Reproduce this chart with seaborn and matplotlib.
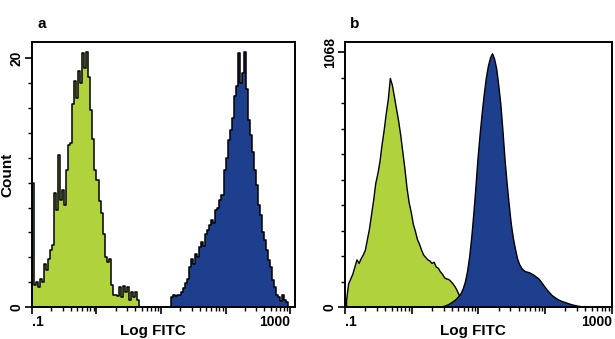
import numpy as np
import pandas as pd
import seaborn as sns
import matplotlib.pyplot as plt
from matplotlib.ticker import FixedLocator

# channel counts, 32 channels per decade from 0.1 to 1000 (log FITC)
green_a = [
    10.0, 1.8, 2.0, 1.6, 2.3, 2.0, 3.5, 3.0, 3.9, 4.6, 5.0, 9.2, 7.8, 12.2, 8.6, 9.4,
    8.2, 11.0, 13.0, 13.2, 16.3, 18.2, 16.8, 19.0, 18.0, 20.4, 19.2, 20.5, 18.5, 15.8, 13.5, 11.0,
    10.2, 8.5, 7.6, 5.9, 4.0, 3.6, 3.9, 1.8, 1.0, 1.0, 0.9, 1.6, 0.8, 1.7, 1.2, 1.6,
    0.6, 1.2, 0.8, 1.2, 0.6, 0, 0, 0, 0, 0, 0, 0, 0, 0, 0, 0,
    0, 0, 0, 0, 0, 0, 0, 0, 0, 0, 0, 0, 0, 0, 0, 0,
    0, 0, 0, 0, 0, 0, 0, 0, 0, 0, 0, 0, 0, 0, 0, 0,
    0, 0, 0, 0, 0, 0, 0, 0, 0, 0, 0, 0, 0, 0, 0, 0,
    0, 0, 0, 0, 0, 0, 0, 0, 0, 0, 0, 0, 0, 0, 0, 0,
]
blue_a = [
    0, 0, 0, 0, 0, 0, 0, 0, 0, 0, 0, 0, 0, 0, 0, 0,
    0, 0, 0, 0, 0, 0, 0, 0, 0, 0, 0, 0, 0, 0, 0, 0,
    0, 0, 0, 0, 0, 0, 0, 0, 0, 0, 0, 0, 0, 0, 0, 0,
    0, 0, 0, 0, 0, 0, 0, 0, 0, 0, 0, 0, 0, 0, 0, 0,
    0, 0, 0, 0, 0, 0.8, 1.0, 0.9, 1.0, 1.0, 1.2, 1.5, 1.9, 2.3, 3.2, 3.9,
    3.5, 4.3, 4.0, 4.8, 5.2, 4.9, 5.9, 6.2, 6.6, 7.0, 6.8, 7.8, 8.0, 8.6, 9.0, 11.0,
    12.0, 13.4, 14.2, 15.2, 17.0, 17.8, 20.4, 18.0, 18.8, 20.5, 17.5, 15.0, 13.8, 12.5, 11.0, 9.8,
    8.2, 7.4, 6.0, 5.4, 4.6, 3.8, 3.2, 2.2, 1.6, 1.0, 0.8, 0.5, 1.0, 0.6, 0.4, 0,
]
green_b = [
    30, 100, 120, 140, 170, 200, 185, 205, 220, 240, 285, 330, 390, 450, 520, 560,
    610, 680, 740, 810, 870, 960, 930, 880, 830, 780, 720, 650, 580, 500, 440, 400,
    350, 320, 285, 265, 240, 220, 210, 200, 195, 185, 190, 170, 165, 150, 140, 125,
    120, 118, 110, 100, 88, 72, 52, 30, 12, 0, 0, 0, 0, 0, 0, 0,
    0, 0, 0, 0, 0, 0, 0, 0, 0, 0, 0, 0, 0, 0, 0, 0,
    0, 0, 0, 0, 0, 0, 0, 0, 0, 0, 0, 0, 0, 0, 0, 0,
    0, 0, 0, 0, 0, 0, 0, 0, 0, 0, 0, 0, 0, 0, 0, 0,
    0, 0, 0, 0, 0, 0, 0, 0, 0, 0, 0, 0, 0, 0, 0, 0,
]
blue_b = [
    0, 0, 0, 0, 0, 0, 0, 0, 0, 0, 0, 0, 0, 0, 0, 0,
    0, 0, 0, 0, 0, 0, 0, 0, 0, 0, 0, 0, 0, 0, 0, 0,
    0, 0, 0, 0, 0, 0, 0, 0, 0, 0, 0, 0, 0, 2, 4, 6,
    9, 13, 18, 24, 30, 38, 48, 60, 80, 108, 150, 210, 290, 390, 500, 620,
    720, 810, 890, 960, 1010, 1045, 1063, 1040, 1000, 930, 850, 740, 620, 520, 430, 350,
    290, 245, 205, 180, 165, 155, 150, 148, 145, 140, 135, 128, 122, 112, 100, 88,
    76, 66, 56, 48, 42, 36, 31, 27, 24, 21, 18, 15, 12, 10, 8, 6,
    5, 3, 2, 1, 0, 0, 0, 0, 0, 0, 0, 0, 0, 0, 0, 0,
]
x_labels = [".1", "1000"]
panel_letters = ["a", "b"]
y_max_labels = [20, 1068]

GREEN = "#b0d23c"
BLUE = "#1e3f8e"

sns.set_style("white")
plt.rcParams["font.family"] = ["Liberation Sans", "DejaVu Sans"]
plt.rcParams["font.weight"] = "bold"
plt.rcParams["text.color"] = "black"
plt.rcParams["axes.labelcolor"] = "black"
plt.rcParams["xtick.color"] = "black"
plt.rcParams["ytick.color"] = "black"

n_bins = len(green_a)
edges = np.linspace(-1, 3, n_bins + 1)
centers = (edges[:-1] + edges[1:]) / 2

fig = plt.figure(figsize=(6.15, 3.39), dpi=100)
ax_a = fig.add_axes([0.052, 0.094, 0.428, 0.782])
ax_b = fig.add_axes([0.561, 0.094, 0.434, 0.782])

minor = [np.log10(k * 10.0 ** d) for d in range(-1, 3) for k in range(2, 10)]

# panel a: raw jagged channels; panel b: smoother outline
panels = [
    (ax_a, green_a, blue_a, 3.08, 21.3, 0.46, "step", 1.1),
    (ax_b, green_b, blue_b, 3.0, 1110, 0.48, "poly", 1.0),
]
for i, (ax, g, b, xmax, ymax, xl, elem, lw) in enumerate(panels):
    for counts, col in [(g, GREEN), (b, BLUE)]:
        df = pd.DataFrame({"logfitc": centers, "count": counts})
        sns.histplot(data=df, x="logfitc", weights="count", bins=n_bins,
                     binrange=(-1, 3), element=elem, fill=True, color=col,
                     alpha=1, edgecolor="black", linewidth=lw, ax=ax)
    ax.set_xlim(-1, xmax)
    ax.set_ylim(0, ymax)

    top = y_max_labels[i]
    ax.yaxis.set_major_locator(FixedLocator([0, top]))
    ax.yaxis.set_minor_locator(FixedLocator(np.linspace(0, top, 11)))
    ax.set_yticklabels(["0", str(top)], rotation=90, va="center",
                       fontsize=10, fontweight="bold")
    ax.xaxis.set_major_locator(FixedLocator([-1, 0, 1, 2, 3]))
    ax.xaxis.set_minor_locator(FixedLocator(minor))
    ax.set_xticklabels([x_labels[0], "", "", "", x_labels[1]],
                       fontsize=10, fontweight="bold")
    ax.get_xticklabels()[0].set_ha("left")
    ax.get_xticklabels()[-1].set_ha("right")
    ax.tick_params(which="major", length=5, width=1.2, direction="out", pad=1,
                   colors="black", left=True, bottom=True)
    ax.tick_params(which="minor", length=3, width=1.0, direction="out",
                   colors="black", left=True, bottom=True)
    for s in ax.spines.values():
        s.set_color("black")
        s.set_linewidth(1.4)

    ax.set_xlabel("Log FITC", fontsize=11, fontweight="bold", color="black")
    ax.xaxis.set_label_coords(xl, -0.065)
    ax.set_ylabel("")
    ax.text(0.02, 1.04, panel_letters[i], transform=ax.transAxes,
            fontsize=11, fontweight="bold", ha="left", va="bottom",
            color="black")

ax_a.set_ylabel("Count", fontsize=11, fontweight="bold", color="black")
ax_a.yaxis.set_label_coords(-0.065, 0.5)

fig.savefig("out.png", dpi=100)
